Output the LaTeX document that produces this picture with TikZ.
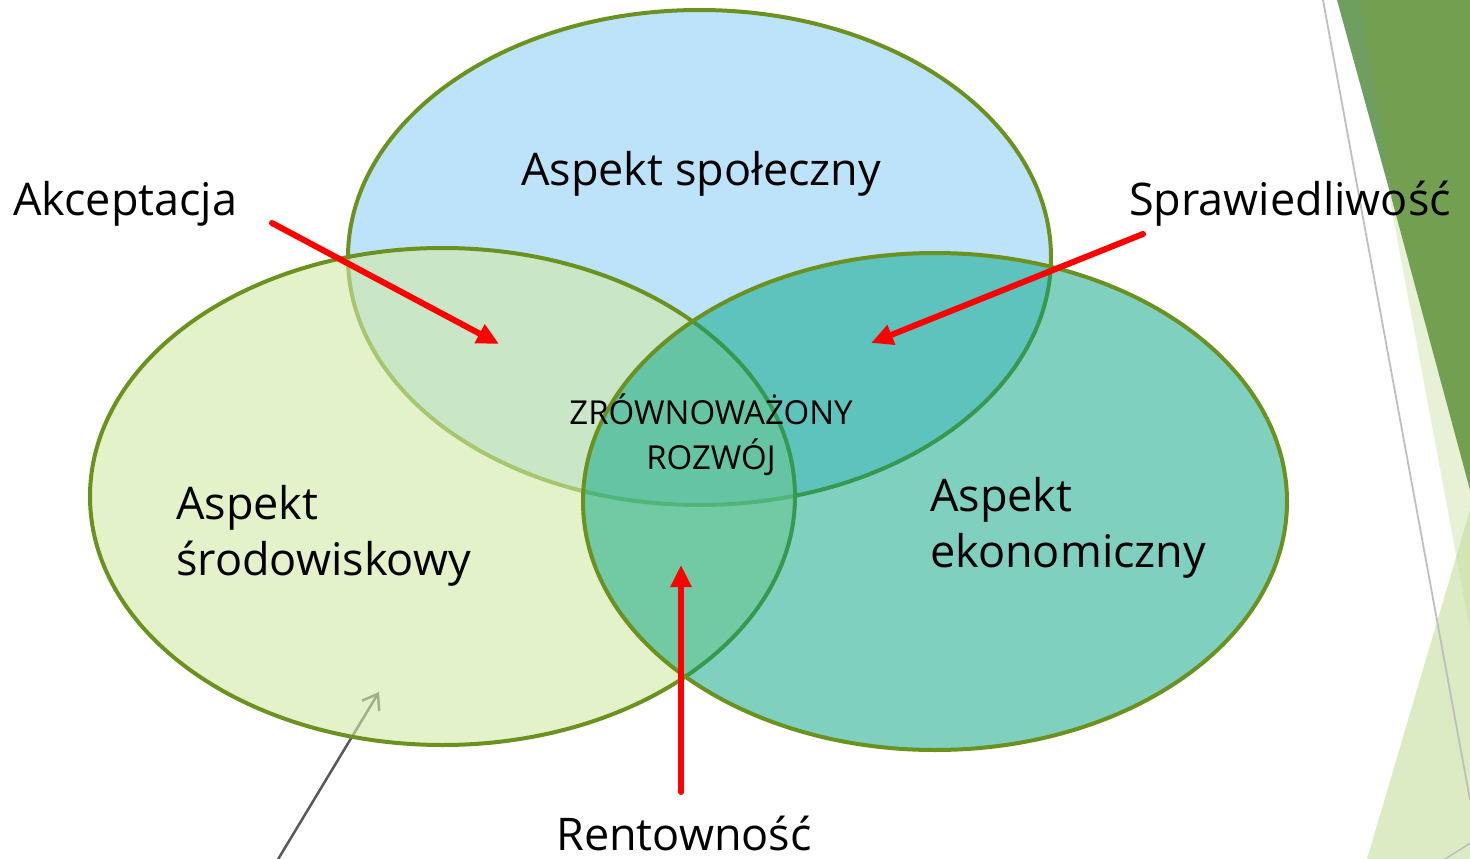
\documentclass[tikz,border=0pt]{standalone}
\usepackage{fontspec}
\setmainfont{Open Sans}
\usepackage{xcolor}
\usepackage{tikz}
\usetikzlibrary{shapes,arrows,positioning,calc,arrows.meta}

\definecolor{spolblue}{RGB}{189,227,250}
\definecolor{srodgreen}{RGB}{209,234,165}
\definecolor{ekoteal}{RGB}{0,163,129}
\definecolor{rimgreen}{RGB}{107,145,30}
\definecolor{facetdark}{RGB}{114,160,80}
\definecolor{facetstrip}{RGB}{110,158,96}
\definecolor{facetpale}{RGB}{231,241,214}
\definecolor{facetlight}{RGB}{198,222,155}

\begin{document}
\begin{tikzpicture}[x=1pt, y=-1pt,
    aspect/.style={font=\fontsize{45}{56}\selectfont, inner sep=0pt},
    pointer/.style={draw=red, line width=6pt, line cap=round, -{Triangle[length=22pt,width=20pt]}},
    rim/.style={draw=rimgreen, line width=4pt}]
    \clip (0,0) rectangle (1470,859);
    \fill[white] (0,0) rectangle (1470,859);

    \fill[facetpale] (1390,200) -- (1470,200) -- (1470,630) -- cycle;
    \fill[facetstrip] (1337,0) -- (1362,0) -- (1392,200) -- cycle;
    \fill[facetdark] (1360,0) -- (1470,0) -- (1470,490) -- (1392,200) -- cycle;
    \fill[facetlight, fill opacity=0.6] (1367,859) -- (1470,510) -- (1470,859) -- cycle;
    \draw[black!25, line width=1.8pt] (1323,0) -- (1470,800);
    \draw[black!25, line width=1.5pt] (1442,861) -- (1472,842);

    \fill[spolblue] (699.5,257.5) ellipse [x radius=351.5, y radius=247.5];
    \draw[rim] (699.5,257.5) ellipse [x radius=351.5, y radius=247.5];

    \coordinate (grey-tail) at (277,861);
    \coordinate (grey-tip) at (379,692);
    \draw[black!65, line width=2.5pt, -{Straight Barb[length=14pt,width=20pt]}] (grey-tail) -- (grey-tip);

    \fill[srodgreen, fill opacity=0.6] (442.5,496.5) ellipse [x radius=352.5, y radius=248.5];
    \draw[rim] (442.5,496.5) ellipse [x radius=352.5, y radius=248.5];

    \fill[ekoteal, fill opacity=0.5] (935,501.5) ellipse [x radius=352, y radius=248.5];
    \draw[rim] (935,501.5) ellipse [x radius=352, y radius=248.5];

    \node[aspect, anchor=base west] (akceptacja) at (13,215) {Akceptacja};
    \node[aspect, anchor=base west] (spoleczny) at (521,185) {Aspekt społeczny};
    \node[aspect, anchor=base west] (sprawiedliwosc) at (1129,215) {Sprawiedliwość};
    \node[aspect, anchor=base west] (rentownosc) at (556,850) {Rentowność};
    \node[aspect, anchor=north west, align=left] (srodowiskowy) at (176,485) {Aspekt\\środowiskowy};
    \node[aspect, anchor=north west, align=left] (ekonomiczny) at (930,477) {Aspekt\\ekonomiczny};
    \node[font=\fontsize{33}{45}\selectfont, inner sep=0pt, align=center, anchor=north] (zrownowazony) at (711,394) {ZRÓWNOWAŻONY\\ROZWÓJ};

    \coordinate (akc-tail) at (272,223);
    \coordinate (akc-tip) at (499,344);
    \coordinate (spr-tail) at (1143,234);
    \coordinate (spr-tip) at (871,343);
    \coordinate (ren-tail) at (681,792);
    \coordinate (ren-tip) at (681,565);
    \draw[pointer] (akc-tail) -- (akc-tip);
    \draw[pointer] (spr-tail) -- (spr-tip);
    \draw[pointer] (ren-tail) -- (ren-tip);
\end{tikzpicture}
\end{document}
